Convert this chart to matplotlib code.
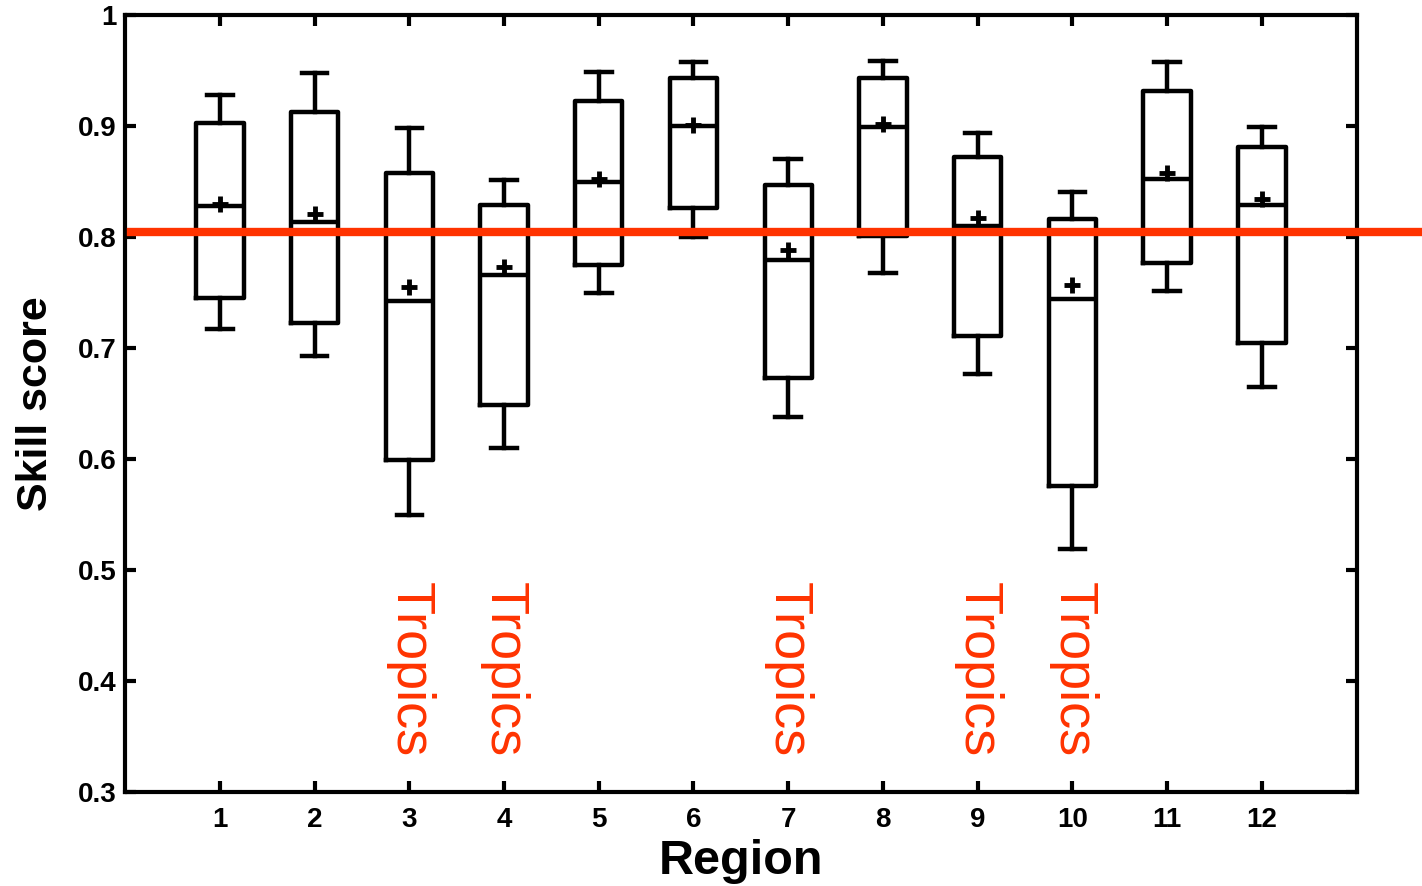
import matplotlib
matplotlib.use("Agg")
import matplotlib.pyplot as plt

# -------------------------------
# DATA
# -------------------------------
regions = [1, 2, 3, 4, 5, 6, 7, 8, 9, 10, 11, 12]
whisker_hi = [0.928, 0.948, 0.898, 0.851, 0.949, 0.958, 0.870, 0.959, 0.894, 0.841, 0.958, 0.899]
q3 = [0.903, 0.913, 0.858, 0.829, 0.923, 0.943, 0.847, 0.943, 0.872, 0.816, 0.932, 0.881]
medians = [0.828, 0.814, 0.742, 0.766, 0.850, 0.900, 0.779, 0.899, 0.810, 0.744, 0.852, 0.829]
means = [0.830, 0.821, 0.755, 0.773, 0.852, 0.901, 0.788, 0.902, 0.817, 0.757, 0.858, 0.834]
q1 = [0.745, 0.723, 0.599, 0.649, 0.775, 0.826, 0.673, 0.801, 0.711, 0.576, 0.777, 0.705]
whisker_lo = [0.717, 0.693, 0.550, 0.610, 0.750, 0.800, 0.638, 0.768, 0.677, 0.519, 0.751, 0.665]

tropics = [3, 4, 7, 9, 10]
threshold = 0.8045

red = "#ff3300"
plt.rcParams["font.family"] = ["Liberation Sans", "DejaVu Sans"]

stats = []
for i in range(len(regions)):
    stats.append({
        "whishi": whisker_hi[i], "q3": q3[i], "med": medians[i], "mean": means[i],
        "q1": q1[i], "whislo": whisker_lo[i], "fliers": [],
    })

fig = plt.figure(figsize=(14.22, 8.86), dpi=100)
ax = fig.add_axes([0.088, 0.106, 0.866, 0.877])

ax.bxp(stats, positions=regions, widths=0.5, capwidths=0.27, showmeans=True,
       boxprops=dict(color="black", linewidth=3.2),
       whiskerprops=dict(color="black", linewidth=3.2),
       capprops=dict(color="black", linewidth=3.2),
       medianprops=dict(color="black", linewidth=3.2),
       meanprops=dict(marker="+", markersize=11, markeredgewidth=3.5,
                      markeredgecolor="black", markerfacecolor="black"))

# reference line, runs past the right edge of the axes
ax.axhline(threshold, xmin=0.005, xmax=1.06, color=red, linewidth=6, clip_on=False, zorder=5)

for r in tropics:
    ax.text(r, 0.489, "Tropics", rotation=270, ha="center", va="top",
            fontsize=39, color=red)

ax.set_xlim(0, 13)
ax.set_ylim(0.3, 1.0)
ax.set_xticks(regions)
ax.set_xticklabels([str(r) for r in regions])
ax.set_yticks([0.3, 0.4, 0.5, 0.6, 0.7, 0.8, 0.9, 1.0])
ax.set_yticklabels(["0.3", "0.4", "0.5", "0.6", "0.7", "0.8", "0.9", "1"])

ax.tick_params(direction="in", length=8, width=3, top=True, right=True, labelsize=20)
ax.tick_params(axis="x", pad=11)
ax.tick_params(axis="y", pad=6)
for lab in ax.get_xticklabels() + ax.get_yticklabels():
    lab.set_fontweight("bold")
for s in ax.spines.values():
    s.set_linewidth(3)

ax.set_xlabel("Region", fontsize=35, fontweight="bold", labelpad=4)
ax.set_ylabel("Skill score", fontsize=31, fontweight="bold", labelpad=16)

plt.savefig("out.png", dpi=100)
plt.close()
